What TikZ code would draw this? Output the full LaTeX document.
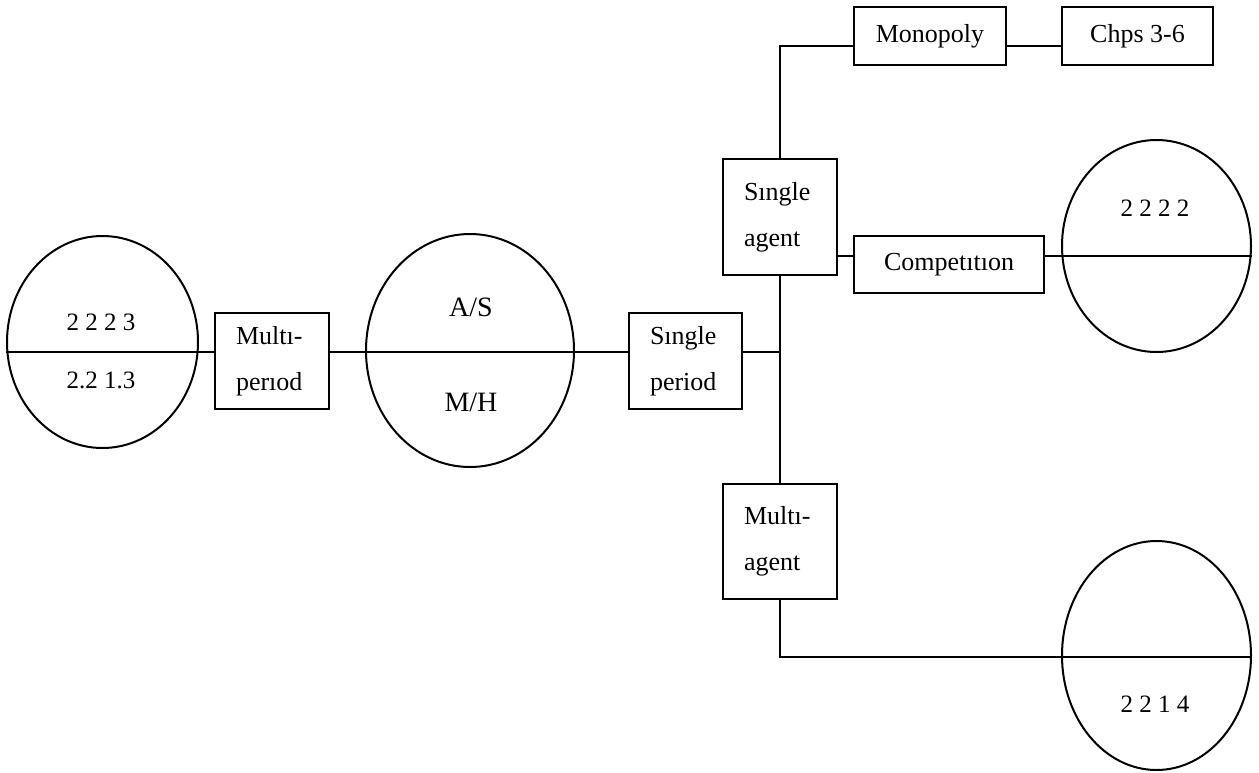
\documentclass[tikz,border=0pt]{standalone}
\usepackage{fontspec}
\setmainfont{Liberation Serif}
\usetikzlibrary{shapes.geometric,calc}
\begin{document}
\begin{tikzpicture}[x=1pt,y=-1pt,
  ln/.style={line width=2pt},
  oval/.style={draw, ellipse, line width=2pt, inner sep=0pt},
  twobox/.style={draw, rectangle, line width=2pt, inner xsep=21pt, inner ysep=0pt, text width=72pt, align=left, font=\fontsize{26}{46}\selectfont},
  onebox/.style={draw, rectangle, line width=2pt, inner sep=0pt, font=\fontsize{26}{30}\selectfont},
  lbl/.style={inner sep=0pt, font=\fontsize{25}{30}\selectfont},
  biglbl/.style={inner sep=0pt, font=\fontsize{28}{32}\selectfont}]
\path[use as bounding box] (0,0) rectangle (1259,772);

% ellipses
\node[oval, minimum width=191pt, minimum height=212pt] (e1) at (102.5,342) {};
\node[oval, minimum width=208pt, minimum height=233pt] (e2) at (470,350.5) {};
\node[oval, minimum width=189pt, minimum height=212pt] (e3) at (1156.5,246) {};
\node[oval, minimum width=189pt, minimum height=229pt] (e4) at (1156.5,655.5) {};

% ellipse labels
\node[lbl] (t1a) at (101,322) {2 2 2 3};
\node[lbl] (t1b) at (101,380) {2.2 1.3};
\node[biglbl] (t2a) at (471,307) {A/S};
\node[biglbl] (t2b) at (471,402) {M/H};
\node[lbl] (t3) at (1155,208) {2 2 2 2};
\node[lbl] (t4) at (1155,704) {2 2 1 4};

% boxes
\node[twobox, minimum height=96pt] (mp) at (272,361) {Multı-\\perıod};
\node[twobox, minimum height=96pt, text width=71pt] (sp) at (685.5,361) {Sıngle\\period};
\node[twobox, minimum height=116pt] (sa) at (780,217) {Sıngle\\agent};
\node[twobox, minimum height=115pt] (ma) at (780,541.5) {Multı-\\agent};
\node[onebox, minimum width=152pt, minimum height=58pt] (mono) at (930,36) {Monopoly};
\node[onebox, minimum width=151pt, minimum height=58pt] (chps) at (1137.5,36) {Chps 3-6};
\node[onebox, minimum width=190pt, minimum height=57pt] (comp) at (949,264.5) {Competıtıon};

% connector levels
\coordinate (ax) at (0,352);
\coordinate (ry) at (0,46);
\coordinate (cy) at (0,256);
\coordinate (by) at (0,657);

% connectors
\draw[ln] (e1.west |- ax) -- (mp.west |- ax);
\draw[ln] (mp.east |- ax) -- (sp.west |- ax);
\draw[ln] (sp.east |- ax) -- (sa.south |- ax);
\draw[ln] (sa.south) -- (ma.north);
\draw[ln] (sa.north) |- (mono.west |- ry);
\draw[ln] (mono.east |- ry) -- (chps.west |- ry);
\draw[ln] (sa.east |- cy) -- (comp.west |- cy);
\draw[ln] (comp.east |- cy) -- (e3.east |- cy);
\draw[ln] (ma.south) |- (e4.east |- by);
\end{tikzpicture}
\end{document}
